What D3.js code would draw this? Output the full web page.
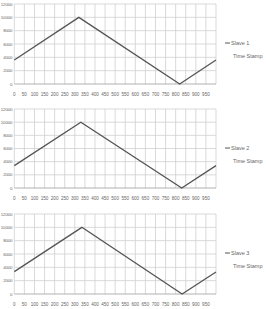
<!DOCTYPE html>
<html>
<head>
<meta charset="utf-8">
<script src="https://cdn.jsdelivr.net/npm/d3@7"></script>
<style>
  body { margin: 0; background: #fff; }
  text { font-family: "Liberation Sans", Arial, sans-serif; }
</style>
</head>
<body>
<div id="chart"></div>
<script>
const width = 266;
const height = 309;

// data
const seriesNames = ["Slave 1", "Slave 2", "Slave 3"];
const slave1 = [[0, 3600], [320, 10000], [820, 0], [1000, 3600]];
const slave2 = [[0, 3400], [330, 10000], [830, 0], [1000, 3400]];
const slave3 = [[0, 3350], [335, 10000], [832, 0], [1000, 3300]];
const allSeries = [slave1, slave2, slave3];
const xTicks = d3.range(0, 1000, 50); // 0..950
const yTicks = [0, 2000, 4000, 6000, 8000, 10000, 12000];

// panel placement (top of plot = 12000, bottom = 0)
const panels = [
  { top: 4, bottom: 84 },
  { top: 109, bottom: 188 },
  { top: 214, bottom: 294 }
];
const left = 14.3, right = 216;

const svg = d3.select("#chart").append("svg")
  .attr("width", width)
  .attr("height", height);

const x = d3.scaleLinear().domain([0, 1000]).range([left, right]);

panels.forEach((p, i) => {
  const y = d3.scaleLinear().domain([0, 12000]).range([p.bottom, p.top]);
  const g = svg.append("g");

  // vertical gridlines
  g.selectAll(".vg")
    .data(xTicks.concat([1000]))
    .enter().append("line")
    .attr("x1", d => x(d)).attr("x2", d => x(d))
    .attr("y1", p.top).attr("y2", p.bottom)
    .attr("stroke", "#cfcfcf")
    .attr("stroke-width", 0.8);

  // horizontal gridlines
  g.selectAll(".hg")
    .data(yTicks)
    .enter().append("line")
    .attr("x1", left).attr("x2", right)
    .attr("y1", d => y(d)).attr("y2", d => y(d))
    .attr("stroke", d => d === 0 ? "#a0a0a0" : "#cfcfcf")
    .attr("stroke-width", 0.8);

  // y labels
  g.selectAll(".yl")
    .data(yTicks)
    .enter().append("text")
    .attr("x", left - 2)
    .attr("y", d => y(d) + 1.6)
    .attr("text-anchor", "end")
    .attr("font-size", 4.4)
    .attr("letter-spacing", -0.15)
    .attr("fill", "#666")
    .text(d => d);

  // x labels
  g.selectAll(".xl")
    .data(xTicks)
    .enter().append("text")
    .attr("x", d => x(d))
    .attr("y", p.bottom + 12)
    .attr("text-anchor", "middle")
    .attr("font-size", 4.6)
    .attr("fill", "#666")
    .text(d => d);

  // series line
  const line = d3.line().x(d => x(d[0])).y(d => y(d[1]));
  g.append("path")
    .datum(allSeries[i])
    .attr("d", line)
    .attr("fill", "none")
    .attr("stroke", "#555")
    .attr("stroke-width", 1.3);

  // legend
  const ly = p.top + 39;
  g.append("line")
    .attr("x1", 225).attr("x2", 230)
    .attr("y1", ly).attr("y2", ly)
    .attr("stroke", "#555")
    .attr("stroke-width", 1);
  g.append("text")
    .attr("x", 231).attr("y", ly + 2)
    .attr("font-size", 5.5)
    .attr("fill", "#666")
    .text(seriesNames[i]);
  g.append("text")
    .attr("x", 233).attr("y", ly + 15)
    .attr("font-size", 5.5)
    .attr("fill", "#666")
    .text("Time Stamp");
});
</script>
</body>
</html>
